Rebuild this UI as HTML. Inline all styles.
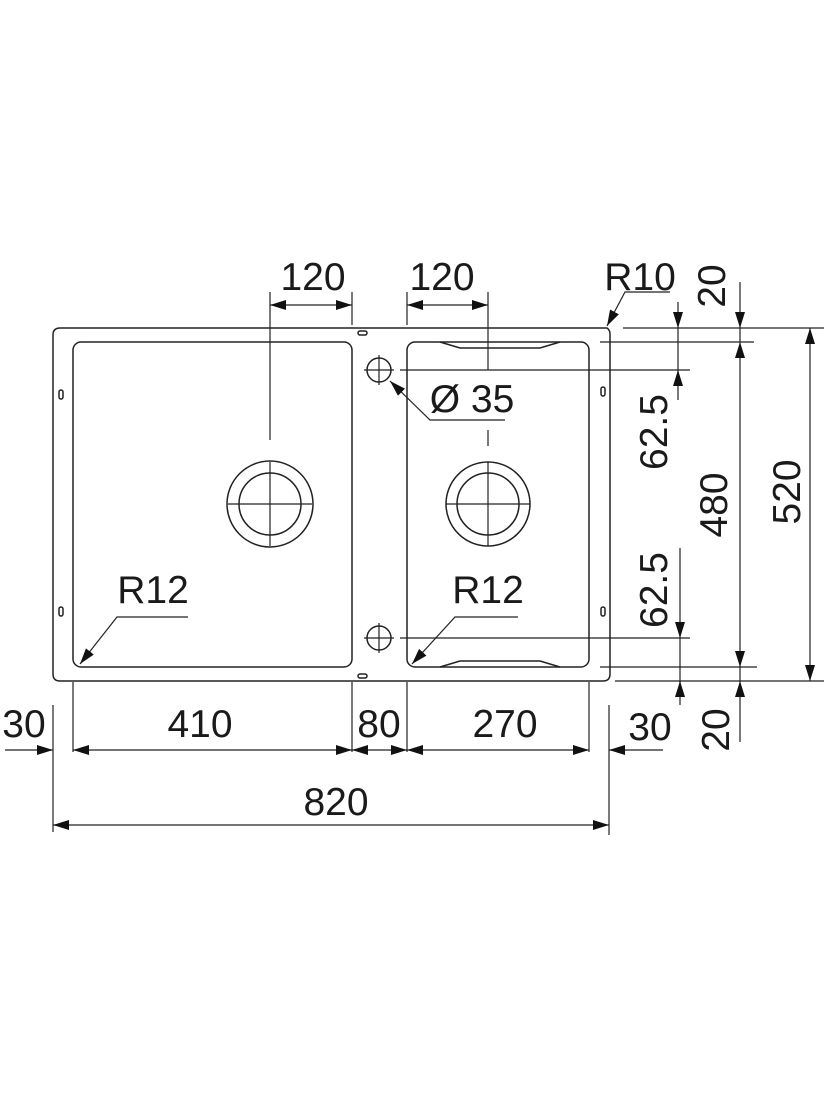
<!DOCTYPE html>
<html><head><meta charset="utf-8"><style>
html,body{margin:0;padding:0;background:#fff}
svg{display:block}
text{font-family:"Liberation Sans",sans-serif;font-size:39px;fill:#1a1a1a}
</style></head><body>
<svg width="825" height="1100" viewBox="0 0 825 1100" xmlns="http://www.w3.org/2000/svg">
<defs>
<marker id="a" viewBox="0 0 16 10" refX="16" refY="5" markerWidth="16" markerHeight="10" markerUnits="userSpaceOnUse" orient="auto-start-reverse"><path d="M0,0L16,5L0,10z" fill="#111"/></marker>
</defs>
<g fill="none" stroke="#222" stroke-width="1.5">
<path d="M60,328 H602 L607,328 Q610,330 610,334 V674 Q610,681 603,681 H60 Q53,681 53,674 V335 Q53,328 60,328 Z"/>
<rect x="73" y="342" width="279" height="325" rx="8"/>
<rect x="407" y="342" width="182" height="325" rx="8"/>
<path d="M440,342 L460,348 H540 L560,342"/>
<path d="M440,667 L460,661 H540 L560,667"/>
<rect x="358" y="331" width="9" height="4" rx="2"/>
<rect x="358" y="674" width="9" height="4" rx="2"/>
<rect x="59" y="390" width="4" height="9" rx="2"/>
<rect x="59" y="607" width="4" height="9" rx="2"/>
<rect x="601" y="387" width="4" height="9" rx="2"/>
<rect x="601" y="607" width="4" height="9" rx="2"/>
<circle cx="270" cy="504" r="43"/><circle cx="270" cy="504" r="31"/>
<circle cx="488" cy="504" r="42"/><circle cx="488" cy="504" r="31"/>
<circle cx="379" cy="370" r="12"/><circle cx="379" cy="638" r="12"/>
</g>
<g stroke="#222" stroke-width="1.2" fill="none">
<path d="M228,504H312M270,462V546M446,504H530M488,462V546"/>
<path d="M364,370H394M379,355V385M364,638H394M379,623V653"/>
<path d="M400,370H690M400,638H690"/>
<path d="M270,292V440M352,292V325M407,292V325M488,292V370M488,430V446"/>
<path d="M623,328H824M600,342H754M600,667H757M615,681H824"/>
<path d="M53,705V832M73,682V752M352,682V752M407,682V752M589,682V752M609,705V835"/>
<path d="M188,617H117L80,664" marker-end="url(#a)"/>
<path d="M518,617H455L412,664" marker-end="url(#a)"/>
<path d="M505,420H430L390,381" marker-end="url(#a)"/>
<path d="M670,292H625L607,326" marker-end="url(#a)"/>
<path d="M270,305H352" marker-start="url(#a)" marker-end="url(#a)"/>
<path d="M407,305H488" marker-start="url(#a)" marker-end="url(#a)"/>
<path d="M5,750H53" marker-end="url(#a)"/>
<path d="M73,750H352" marker-start="url(#a)" marker-end="url(#a)"/>
<path d="M352,750H407" marker-start="url(#a)" marker-end="url(#a)"/>
<path d="M407,750H589" marker-start="url(#a)" marker-end="url(#a)"/>
<path d="M663,750H609" marker-end="url(#a)"/>
<path d="M53,825H609" marker-start="url(#a)" marker-end="url(#a)"/>
<path d="M678,302V328" marker-end="url(#a)"/>
<path d="M678,400V370" marker-end="url(#a)"/>
<path d="M678,328V370"/>
<path d="M680,548V638" marker-end="url(#a)"/>
<path d="M680,705V681" marker-end="url(#a)"/>
<path d="M680,638V681"/>
<path d="M740,282V328" marker-end="url(#a)"/>
<path d="M740,342V667" marker-start="url(#a)" marker-end="url(#a)"/>
<path d="M740,328V342"/>
<path d="M740,742V681" marker-end="url(#a)"/>
<path d="M740,667V681"/>
<path d="M810,328V681" marker-start="url(#a)" marker-end="url(#a)"/>
</g>
<text x="313" y="290" text-anchor="middle">120</text>
<text x="442" y="290" text-anchor="middle">120</text>
<text x="640" y="290" text-anchor="middle">R10</text>
<text x="472" y="412" text-anchor="middle">Ø 35</text>
<text x="153" y="603" text-anchor="middle">R12</text>
<text x="488" y="603" text-anchor="middle">R12</text>
<text x="24" y="737" text-anchor="middle">30</text>
<text x="200" y="737" text-anchor="middle">410</text>
<text x="379" y="737" text-anchor="middle">80</text>
<text x="505" y="737" text-anchor="middle">270</text>
<text x="650" y="740" text-anchor="middle">30</text>
<text x="336" y="815" text-anchor="middle">820</text>
<text transform="translate(725,286) rotate(-90)" text-anchor="middle">20</text>
<text transform="translate(667,432) rotate(-90)" text-anchor="middle">62.5</text>
<text transform="translate(667,590) rotate(-90)" text-anchor="middle">62.5</text>
<text transform="translate(727,505) rotate(-90)" text-anchor="middle">480</text>
<text transform="translate(800,492) rotate(-90)" text-anchor="middle">520</text>
<text transform="translate(729,730) rotate(-90)" text-anchor="middle">20</text>
</svg>
</body></html>
